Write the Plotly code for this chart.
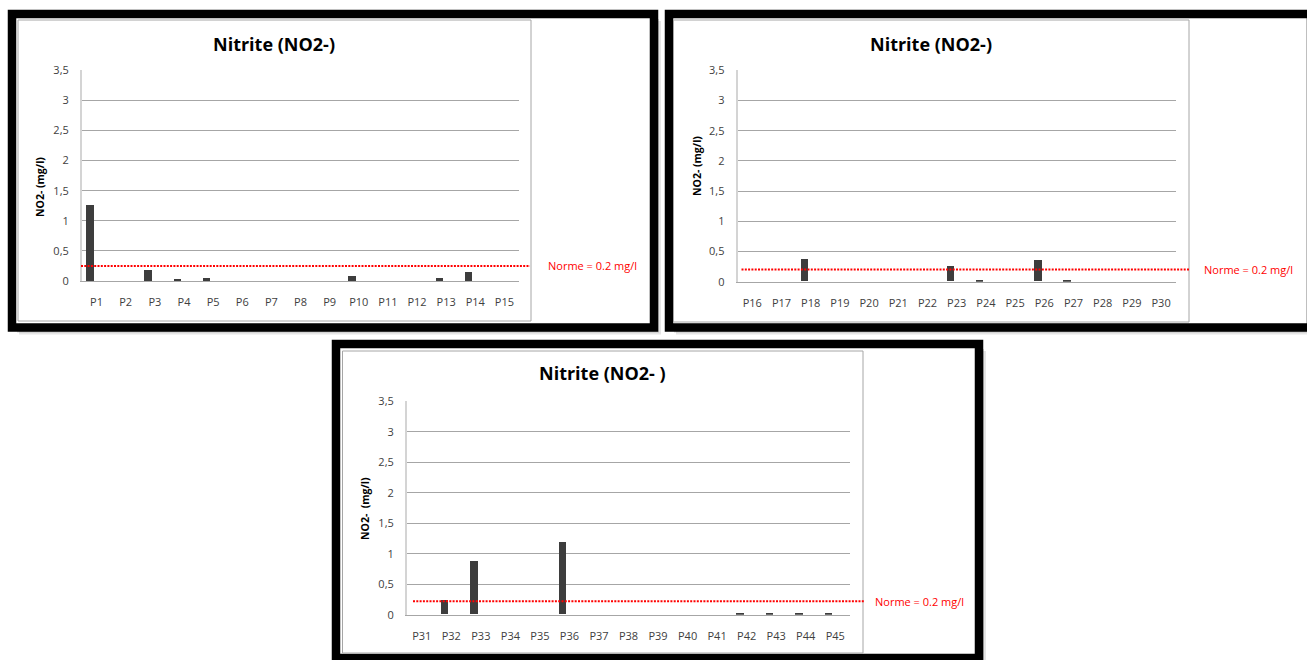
import plotly.graph_objects as go

# ---------------- data ----------------
points_1 = ["P1", "P2", "P3", "P4", "P5", "P6", "P7", "P8", "P9", "P10", "P11", "P12", "P13", "P14", "P15"]
no2_1 = [1.25, 0, 0.18, 0.03, 0.05, 0, 0, 0, 0, 0.07, 0, 0, 0.05, 0.14, 0]

points_2 = ["P16", "P17", "P18", "P19", "P20", "P21", "P22", "P23", "P24", "P25", "P26", "P27", "P28", "P29", "P30"]
no2_2 = [0, 0, 0.37, 0, 0, 0, 0, 0.26, 0.02, 0, 0.36, 0.02, 0, 0, 0]

points_3 = ["P31", "P32", "P33", "P34", "P35", "P36", "P37", "P38", "P39", "P40", "P41", "P42", "P43", "P44", "P45"]
no2_3 = [0, 0.24, 0.87, 0, 0, 1.19, 0, 0, 0, 0, 0, 0.03, 0.03, 0.03, 0.01]

titles = ["Nitrite (NO2-)", "Nitrite (NO2-)", "Nitrite (NO2- )"]
y_titles = ["NO2- (mg/l)", "NO2- (mg/l)", "NO2-  (mg/l)"]
norm_label = "Norme = 0.2 mg/l"
norm_drawn_levels = [0.25, 0.2, 0.22]   # where the dotted line sits in each panel

y_tickvals = [0, 0.5, 1, 1.5, 2, 2.5, 3, 3.5]
y_ticktext = ["0", "0,5", "1", "1,5", "2", "2,5", "3", "3,5"]

# ---------------- layout helpers ----------------
W, H = 1307, 660
def fx(p):
    return p / W
def fy(p):
    return 1 - p / H

FONT = "Open Sans"
BAR_COLOR = "#3d3d3d"

# panel geometry in pixels
panels = [
    dict(plot=(82, 519, 70.3, 281), frame=(12, 654, 14, 327.5), area=(18, 531, 20, 321),
         title=(274, 44), ytitle=(40, 187), line=(81, 530), label_x=546),
    dict(plot=(737.7, 1175.7, 70.3, 281.7), frame=(669, 1311, 14, 327.5), area=(673.5, 1189, 20, 322),
         title=(931, 44), ytitle=(697, 166), line=(741.5, 1189), label_x=1202),
    dict(plot=(407, 850, 401.3, 614.7), frame=(336, 979, 344, 658), area=(342.5, 863, 351, 653),
         title=(602, 373), ytitle=(365, 509), line=(413, 864), label_x=873),
]
datasets = [(points_1, no2_1), (points_2, no2_2), (points_3, no2_3)]

fig = go.Figure()
shapes = []
annotations = []
layout_axes = {}

for i, (pan, (cats, vals)) in enumerate(zip(panels, datasets)):
    n = "" if i == 0 else str(i + 1)
    xa, ya = "x" + n, "y" + n
    fig.add_trace(go.Bar(
        x=cats, y=vals, xaxis=xa, yaxis=ya,
        width=0.25, offset=-0.355,
        marker=dict(color=BAR_COLOR, line=dict(width=0)),
        showlegend=False, hoverinfo="x+y",
    ))
    x0, x1, yt, yb = pan["plot"]
    layout_axes["xaxis" + n] = dict(
        domain=[fx(x0), fx(x1)], anchor=ya, type="category",
        range=[-0.5, len(cats) - 0.5],
        showgrid=False, showline=True, linecolor="#a6a6a6", linewidth=1,
        ticks="", ticklabelstandoff=11,
        tickfont=dict(family=FONT, size=11, color="#404040"),
        fixedrange=True,
    )
    layout_axes["yaxis" + n] = dict(
        domain=[fy(yb), fy(yt)], anchor=xa, range=[0, 3.5],
        tickvals=y_tickvals, ticktext=y_ticktext,
        showgrid=True, gridcolor="#a6a6a6", gridwidth=1,
        zeroline=False, showline=True, linecolor="#d4d4d4", linewidth=2,
        ticks="", ticklabelstandoff=9,
        tickfont=dict(family=FONT, size=11, color="#404040"),
        fixedrange=True,
    )

    # drop shadow, black frame, chart-area border
    fx0, fx1, fy0, fy1 = pan["frame"]
    for off, op in [(7, 0.10), (5, 0.15), (3, 0.25)]:
        shapes.append(dict(type="rect", xref="paper", yref="paper", layer="below",
                           x0=fx(fx0 + off), x1=fx(fx1 + off), y0=fy(fy1 + off), y1=fy(fy0 + off),
                           line=dict(width=0), fillcolor="rgba(0,0,0,%s)" % op))
    shapes.append(dict(type="rect", xref="paper", yref="paper", layer="below",
                       x0=fx(fx0), x1=fx(fx1), y0=fy(fy1), y1=fy(fy0),
                       line=dict(color="black", width=8.5), fillcolor="white"))
    ax0, ax1, ay0, ay1 = pan["area"]
    shapes.append(dict(type="rect", xref="paper", yref="paper", layer="below",
                       x0=fx(ax0), x1=fx(ax1), y0=fy(ay1), y1=fy(ay0),
                       line=dict(color="#a6a6a6", width=1), fillcolor="white"))

    # norm line
    lx0, lx1 = pan["line"]
    lvl = norm_drawn_levels[i]
    shapes.append(dict(type="line", xref="paper", yref=ya, layer="above",
                       x0=fx(lx0), x1=fx(lx1), y0=lvl, y1=lvl,
                       line=dict(color="#ff0000", width=2, dash="2px,1.3px")))
    annotations.append(dict(text=norm_label, xref="paper", yref=ya, x=fx(pan["label_x"]), y=lvl,
                            xanchor="left", yanchor="middle", showarrow=False,
                            font=dict(family=FONT, size=11, color="#ff0000")))

    # titles
    tx, ty = pan["title"]
    annotations.append(dict(text="<b>%s</b>" % titles[i], xref="paper", yref="paper",
                            x=fx(tx), y=fy(ty), xanchor="center", yanchor="middle", showarrow=False,
                            font=dict(family=FONT, size=18, color="#000000")))
    yx, yy = pan["ytitle"]
    annotations.append(dict(text="<b>%s</b>" % y_titles[i], xref="paper", yref="paper",
                            x=fx(yx), y=fy(yy), xanchor="center", yanchor="middle", showarrow=False,
                            textangle=-90, font=dict(family=FONT, size=10.5, color="#000000")))

fig.update_layout(
    width=W, height=H, autosize=False,
    margin=dict(l=0, r=0, t=0, b=0, pad=0, autoexpand=False),
    paper_bgcolor="white", plot_bgcolor="rgba(0,0,0,0)",
    shapes=shapes, annotations=annotations,
    bargap=0, showlegend=False,
    **layout_axes,
)

fig.write_html("out.html", config={"displayModeBar": False})
